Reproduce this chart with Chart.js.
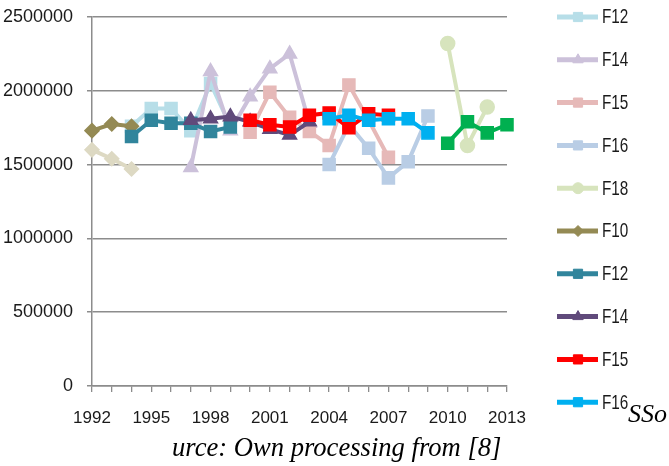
<!DOCTYPE html>
<html>
<head>
<meta charset="utf-8">
<script src="https://cdn.jsdelivr.net/npm/chart.js@4/dist/chart.umd.min.js"></script>
<style>
  html, body { margin: 0; padding: 0; background: #fff; }
  #wrap { position: relative; width: 669px; height: 466px; overflow: hidden; }
  #c { position: absolute; left: 0; top: 0; }
  .note { position: absolute; font-family: "Liberation Serif", "Times New Roman", serif; font-style: italic; color: #000; white-space: nowrap; line-height: 30px; }
  #src { left: 172px; top: 432px; font-size: 26.6px; }
  #sso { left: 628px; top: 399px; font-size: 26px; }
</style>
</head>
<body>
<div id="wrap">
  <canvas id="c" width="669" height="466"></canvas>
  <div class="note" id="sso">SSo</div>
  <div class="note" id="src">urce: Own processing from [8]</div>
</div>
<script>
// Years on the category axis
const years = [1992, 1993, 1994, 1995, 1996, 1997, 1998, 1999, 2000, 2001, 2002,
               2003, 2004, 2005, 2006, 2007, 2008, 2009, 2010, 2011, 2012, 2013];

const yTicks = [0, 500000, 1000000, 1500000, 2000000, 2500000];

// Series values per year (null = no value that year)
const f10a = [1600000, 1540000, 1470000, null, null, null, null, null, null, null, null,
              null, null, null, null, null, null, null, null, null, null, null];
const f12a = [null, null, 1760000, 1880000, 1880000, 1730000, 2050000, 1760000, null, null, null,
              null, null, null, null, null, null, null, null, null, null, null];
const f14a = [null, null, null, null, null, 1480000, 2130000, 1730000, 1960000, 2150000, 2250000,
              1780000, null, null, null, null, null, null, null, null, null, null];
const f15a = [null, null, null, null, null, null, null, null, 1720000, 1990000, 1820000,
              1725000, 1630000, 2040000, 1800000, 1550000, null, null, null, null, null, null];
const f16a = [null, null, null, null, null, null, null, null, null, null, null,
              null, 1500000, 1770000, 1610000, 1410000, 1520000, 1830000, null, null, null, null];
const f18a = [null, null, null, null, null, null, null, null, null, null, null,
              null, null, null, null, null, null, null, 2320000, 1630000, 1890000, null];
const f10b = [1730000, 1775000, 1760000, null, null, null, null, null, null, null, null,
              null, null, null, null, null, null, null, null, null, null, null];
const f12b = [null, null, 1690000, 1800000, 1780000, 1780000, 1725000, 1755000, null, null, null,
              null, null, null, null, null, null, null, null, null, null, null];
const f14b = [null, null, null, null, null, 1800000, 1810000, 1825000, 1790000, 1740000, 1700000,
              1790000, null, null, null, null, null, null, null, null, null, null];
const f15b = [null, null, null, null, null, null, null, null, 1800000, 1770000, 1755000,
              1835000, 1850000, 1750000, 1845000, 1835000, null, null, null, null, null, null];
const f16b = [null, null, null, null, null, null, null, null, null, null, null,
              null, 1810000, 1835000, 1800000, 1810000, 1810000, 1715000, null, null, null, null];
const f18b = [null, null, null, null, null, null, null, null, null, null, null,
              null, null, null, null, null, null, null, 1645000, 1790000, 1715000, 1770000];

const seriesNames = ['F10', 'F12', 'F14', 'F15', 'F16', 'F18',
                     'F10', 'F12', 'F14', 'F15', 'F16', 'F18'];
const seriesValues = [f10a, f12a, f14a, f15a, f16a, f18a, f10b, f12b, f14b, f15b, f16b, f18b];
const seriesColors = ['#DDD9C3', '#B7DEE8', '#CCC1DA', '#E6B9B8', '#B9CDE5', '#D7E4BD',
                      '#948A54', '#31859C', '#604A7B', '#FF0000', '#00B0F0', '#00B050'];
const seriesMarkers = ['rectRot', 'rect', 'triangle', 'rect', 'rect', 'circle',
                       'rectRot', 'rect', 'triangle', 'rect', 'rect', 'rect'];

const markerRadius = { rect: 8.5, rectRot: 7, triangle: 8, circle: 7 };

const datasets = seriesValues.map((vals, i) => ({
  label: seriesNames[i],
  data: vals,
  borderColor: seriesColors[i],
  backgroundColor: seriesColors[i],
  pointBackgroundColor: seriesColors[i],
  pointBorderColor: seriesColors[i],
  pointStyle: seriesMarkers[i],
  pointRadius: markerRadius[seriesMarkers[i]],
  pointBorderWidth: 1.5,
  borderWidth: 4,
  tension: 0,
  spanGaps: false,
  order: seriesValues.length - i   // later series drawn on top
}));

// Legend column on the right: a line with the series marker and its name
const legendColumn = {
  id: 'legendColumn',
  afterDraw(chart) {
    const ctx = chart.ctx;
    const top = 17, step = 42.8;
    ctx.save();
    ctx.beginPath();
    ctx.rect(540, 0, 89, chart.height);
    ctx.clip();
    const ds = chart.data.datasets;
    for (let i = 1; i <= 10; i++) {
      const d = ds[i];
      const y = top + (i - 1) * step;
      ctx.strokeStyle = d.borderColor;
      ctx.lineWidth = 5;
      ctx.lineCap = 'butt';
      ctx.beginPath();
      ctx.moveTo(557, y);
      ctx.lineTo(598, y);
      ctx.stroke();
      ctx.fillStyle = d.backgroundColor;
      ctx.strokeStyle = d.borderColor;
      ctx.lineWidth = 1;
      Chart.helpers.drawPoint(ctx, {
        pointStyle: d.pointStyle,
        radius: d.pointStyle === 'triangle' ? 6 : (d.pointStyle === 'rect' ? 6.5 : 5.5),
        borderWidth: 1,
        rotation: 0
      }, 578, y);
      ctx.save();
      ctx.translate(602, y + 1);
      ctx.scale(0.9, 1.15);
      ctx.fillStyle = '#1a1a1a';
      ctx.font = '17px "Liberation Sans", Arial, sans-serif';
      ctx.textBaseline = 'middle';
      ctx.textAlign = 'left';
      ctx.fillText(d.label, 0, 0);
      ctx.restore();
    }
    ctx.restore();
  }
};

const axisColor = '#8C8C8C';
const tickFont = { family: '"Liberation Sans", Arial, sans-serif', size: 18 };

new Chart(document.getElementById('c'), {
  type: 'line',
  data: { labels: years, datasets },
  options: {
    responsive: false,
    animation: false,
    layout: { padding: { top: 17, right: 162, left: 0, bottom: 0 } },
    plugins: { legend: { display: false }, tooltip: { enabled: false } },
    scales: {
      x: {
        type: 'category',
        offset: false,
        grid: { drawOnChartArea: false, drawTicks: true, tickLength: 6, color: axisColor, lineWidth: 1.3 },
        border: { display: true, color: axisColor, width: 1.5 },
        ticks: {
          autoSkip: false, maxRotation: 0, minRotation: 0, padding: 16,
          color: '#1a1a1a', font: { family: tickFont.family, size: 17 },
          callback: (v, i) => (i % 3 === 0 ? String(years[i]) : '')
        },
        afterFit: s => { s.height = 80; s.paddingLeft = 0; s.paddingRight = 0; }
      },
      y: {
        min: 0, max: 2500000,
        afterBuildTicks: s => { s.ticks = yTicks.map(v => ({ value: v })); },
        grid: { color: axisColor, lineWidth: 1.5, tickLength: 5 },
        border: { display: true, color: axisColor, width: 1.5 },
        ticks: {
          padding: 14, color: '#1a1a1a', font: tickFont,
          callback: v => String(v)
        },
        afterFit: s => { s.width = 92; s.paddingTop = 0; s.paddingBottom = 0; }
      }
    }
  },
  plugins: [legendColumn]
});
</script>
</body>
</html>
